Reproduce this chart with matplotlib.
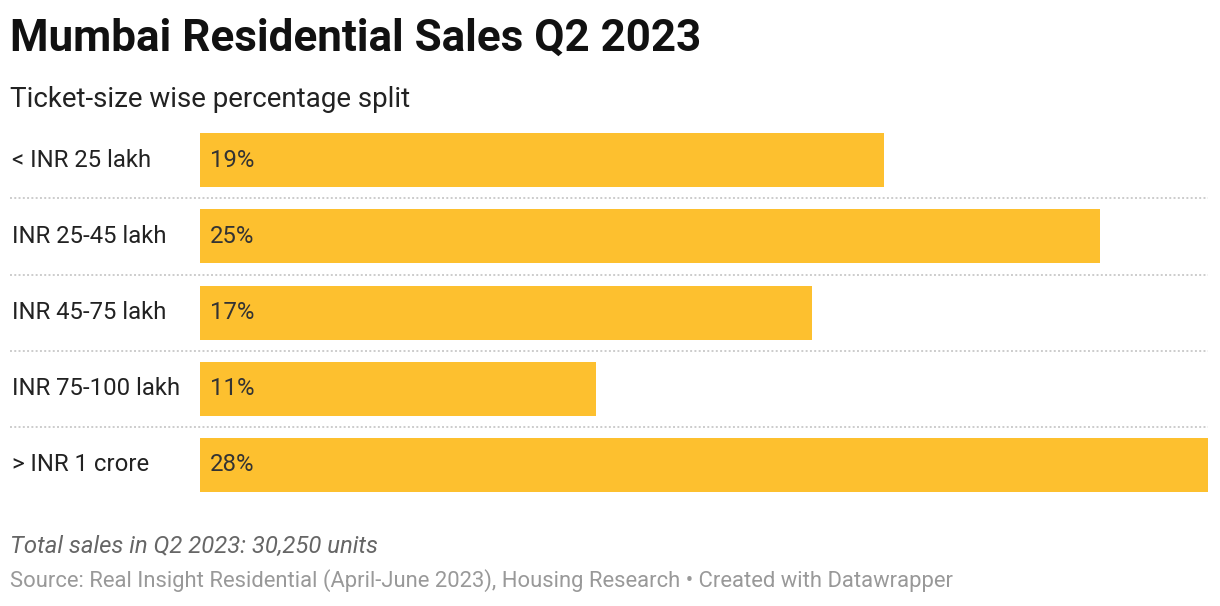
import matplotlib.pyplot as plt

plt.rcParams['font.family'] = ['Roboto', 'DejaVu Sans']

categories = ["< INR 25 lakh", "INR 25-45 lakh", "INR 45-75 lakh", "INR 75-100 lakh", "> INR 1 crore"]
shares = [19, 25, 17, 11, 28]

W, H = 1220, 606
fig = plt.figure(figsize=(W / 100, H / 100), dpi=100)

# axes spans the bar area: x 200..1208 px, rows 122.5..502.5 px
ax = fig.add_axes([200 / W, (H - 502.5) / H, 1008 / W, 380 / H])
ypos = list(range(len(categories)))
ax.barh(ypos, shares, height=54 / 76, color="#fdc02f")
ax.set_xlim(0, max(shares))
ax.set_ylim(len(categories) - 0.5, -0.5)
ax.axis("off")

for i, (cat, v) in enumerate(zip(categories, shares)):
    ax.text(10 / 1008 * max(shares), i, f"{v}%", va="center", ha="left",
            fontsize=17.2, color="#333333")
    ax.annotate(cat, xy=(12 / W, i), xycoords=("figure fraction", "data"),
                va="center", ha="left", fontsize=17.2, color="#222222",
                annotation_clip=False)

# dotted separators between rows, starting at the label column
for i in range(len(categories) - 1):
    ax.plot([-190 / 1008 * max(shares), max(shares)], [i + 0.5, i + 0.5],
            color="#cccccc", linestyle=(0, (1, 1.2)), linewidth=1.4,
            clip_on=False)

fig.text(10 / W, 1 - 51 / H, "Mumbai Residential Sales Q2 2023", fontsize=31.7,
         fontweight="bold", color="#111111", va="baseline")
fig.text(10 / W, 1 - 107 / H, "Ticket-size wise percentage split", fontsize=20,
         color="#222222", va="baseline")
fig.text(10 / W, 1 - 553 / H, "Total sales in Q2 2023: 30,250 units", fontsize=17.2,
         style="italic", color="#666666", va="baseline")
fig.text(10 / W, 1 - 587 / H,
         "Source: Real Insight Residential (April-June 2023), Housing Research \u2022 Created with Datawrapper",
         fontsize=15.8, color="#999999", va="baseline")

fig.savefig("out.png", dpi=100, facecolor="white")
